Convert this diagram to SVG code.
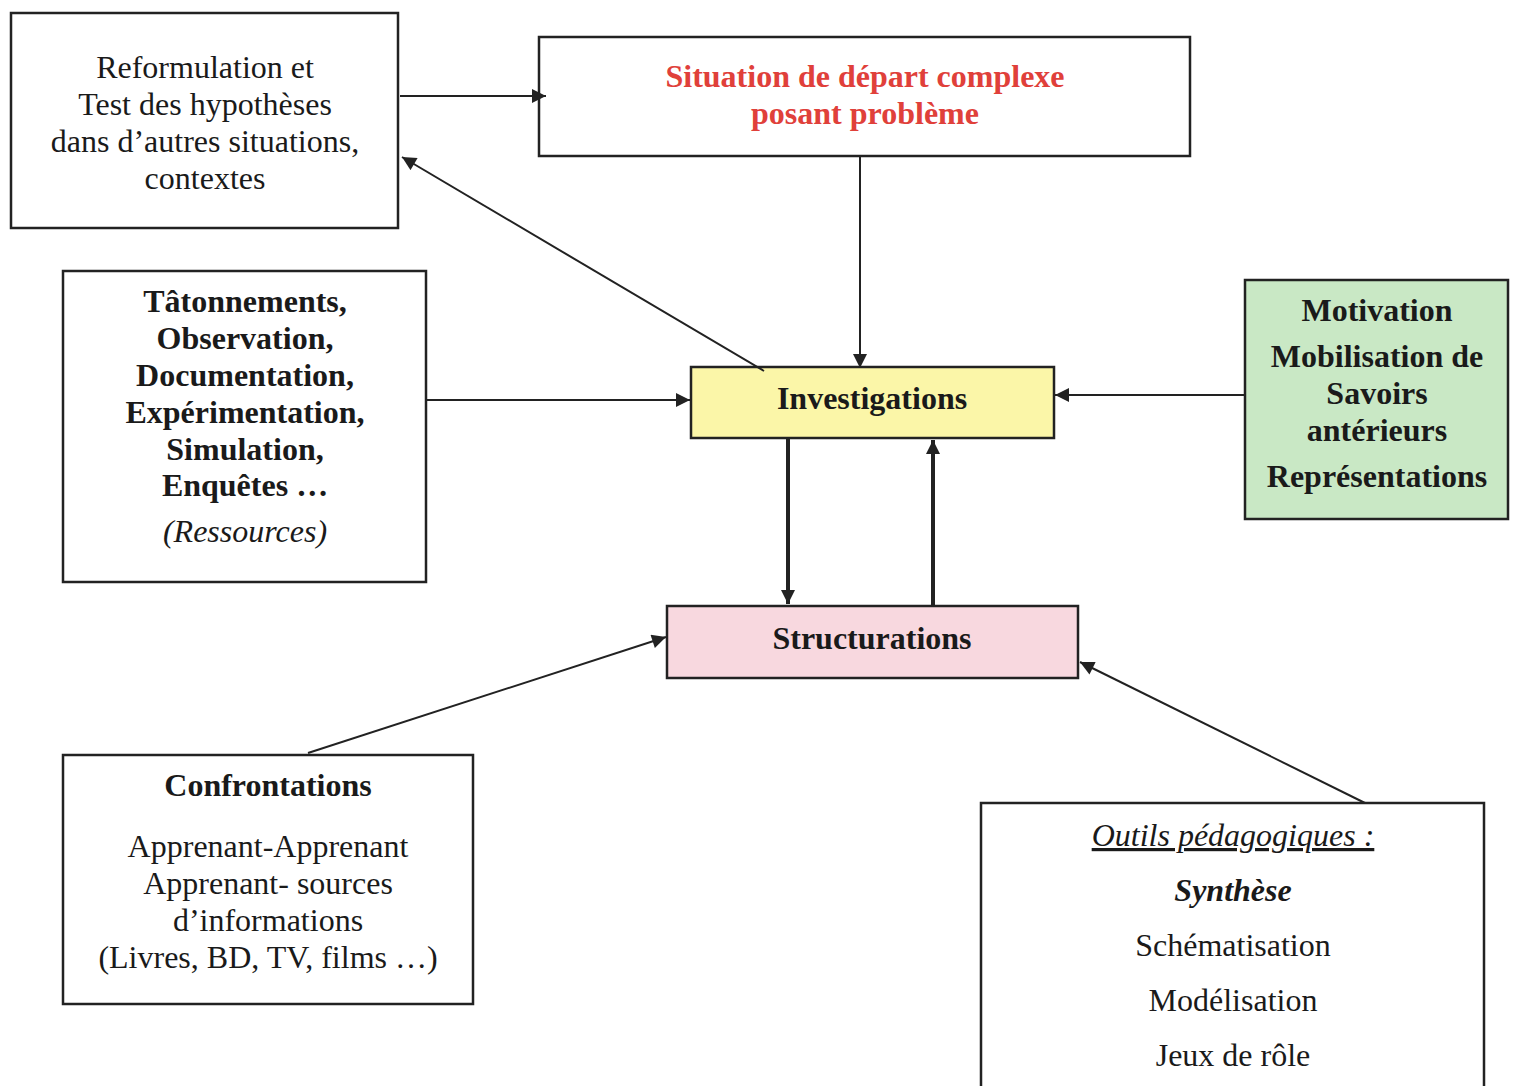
<svg xmlns="http://www.w3.org/2000/svg" width="1515" height="1086" viewBox="0 0 1515 1086">
<style>
.box{fill:#fff;stroke:#222;stroke-width:2.5}
text{font-family:"Liberation Serif","Times New Roman",serif;font-size:32px;fill:#1a1a1a;text-anchor:middle}
.b{font-weight:bold}
.i{font-style:italic}
.red{fill:#e0403a}
.c{stroke:#222;stroke-width:2;fill:none;marker-end:url(#ah)}
.t{stroke:#222;stroke-width:4;fill:none;marker-end:url(#ah2)}
</style>
<defs>
<marker id="ah" viewBox="0 0 10 10" refX="10" refY="5" markerWidth="16" markerHeight="14" markerUnits="userSpaceOnUse" orient="auto"><path d="M0,0 L10,5 L0,10 z" fill="#222"/></marker>
<marker id="ah2" viewBox="0 0 10 10" refX="10" refY="5" markerWidth="16" markerHeight="14" markerUnits="userSpaceOnUse" orient="auto"><path d="M0,0 L10,5 L0,10 z" fill="#222"/></marker>
</defs>
<rect width="1515" height="1086" fill="#fff"/>
<g id="reformulation">
<rect class="box" x="11" y="13" width="387" height="215"/>
<text x="205" y="78">Reformulation et</text>
<text x="205" y="115">Test des hypothèses</text>
<text x="205" y="152">dans d’autres situations,</text>
<text x="205" y="189">contextes</text>
</g>
<g id="situation">
<rect class="box" x="539" y="37" width="651" height="119"/>
<text class="b red" x="865" y="87">Situation de départ complexe</text>
<text class="b red" x="865" y="124">posant problème</text>
</g>
<g id="tatonnements">
<rect class="box" x="63" y="271" width="363" height="311"/>
<text class="b" x="245" y="312">Tâtonnements,</text>
<text class="b" x="245" y="349">Observation,</text>
<text class="b" x="245" y="386">Documentation,</text>
<text class="b" x="245" y="423">Expérimentation,</text>
<text class="b" x="245" y="460">Simulation,</text>
<text class="b" x="245" y="496">Enquêtes …</text>
<text class="i" x="245" y="542">(Ressources)</text>
</g>
<g id="investigations">
<rect class="box" x="691" y="367" width="363" height="71" style="fill:#fbf6a8"/>
<text class="b" x="872" y="409">Investigations</text>
</g>
<g id="motivation">
<rect class="box" x="1245" y="280" width="263" height="239" style="fill:#c9e8c5"/>
<text class="b" x="1377" y="321">Motivation</text>
<text class="b" x="1377" y="367">Mobilisation de</text>
<text class="b" x="1377" y="404">Savoirs</text>
<text class="b" x="1377" y="441">antérieurs</text>
<text class="b" x="1377" y="487">Représentations</text>
</g>
<g id="structurations">
<rect class="box" x="667" y="606" width="411" height="72" style="fill:#f8d8df"/>
<text class="b" x="872" y="649">Structurations</text>
</g>
<g id="confrontations">
<rect class="box" x="63" y="755" width="410" height="249"/>
<text class="b" x="268" y="796">Confrontations</text>
<text x="268" y="857">Apprenant-Apprenant</text>
<text x="268" y="894">Apprenant- sources</text>
<text x="268" y="931">d’informations</text>
<text x="268" y="968">(Livres, BD, TV, films …)</text>
</g>
<g id="outils">
<rect class="box" x="981" y="803" width="503" height="300"/>
<text class="i" x="1233" y="846" text-decoration="underline">Outils pédagogiques :</text>
<text class="b i" x="1233" y="901">Synthèse</text>
<text x="1233" y="956">Schématisation</text>
<text x="1233" y="1011">Modélisation</text>
<text x="1233" y="1066">Jeux de rôle</text>
</g>
<g id="connectors">
<path class="c" d="M400,96 L546,96"/>
<path class="c" d="M764,371 L402,157"/>
<path class="c" d="M860,156 L860,368"/>
<path class="c" d="M426,400 L690,400"/>
<path class="c" d="M1245,395 L1055,395"/>
<path class="t" d="M788,439 L788,604"/>
<path class="t" d="M933,605 L933,440"/>
<path class="c" d="M308,753 L666,637"/>
<path class="c" d="M1365,803 L1080,662"/>
</g>
</svg>
